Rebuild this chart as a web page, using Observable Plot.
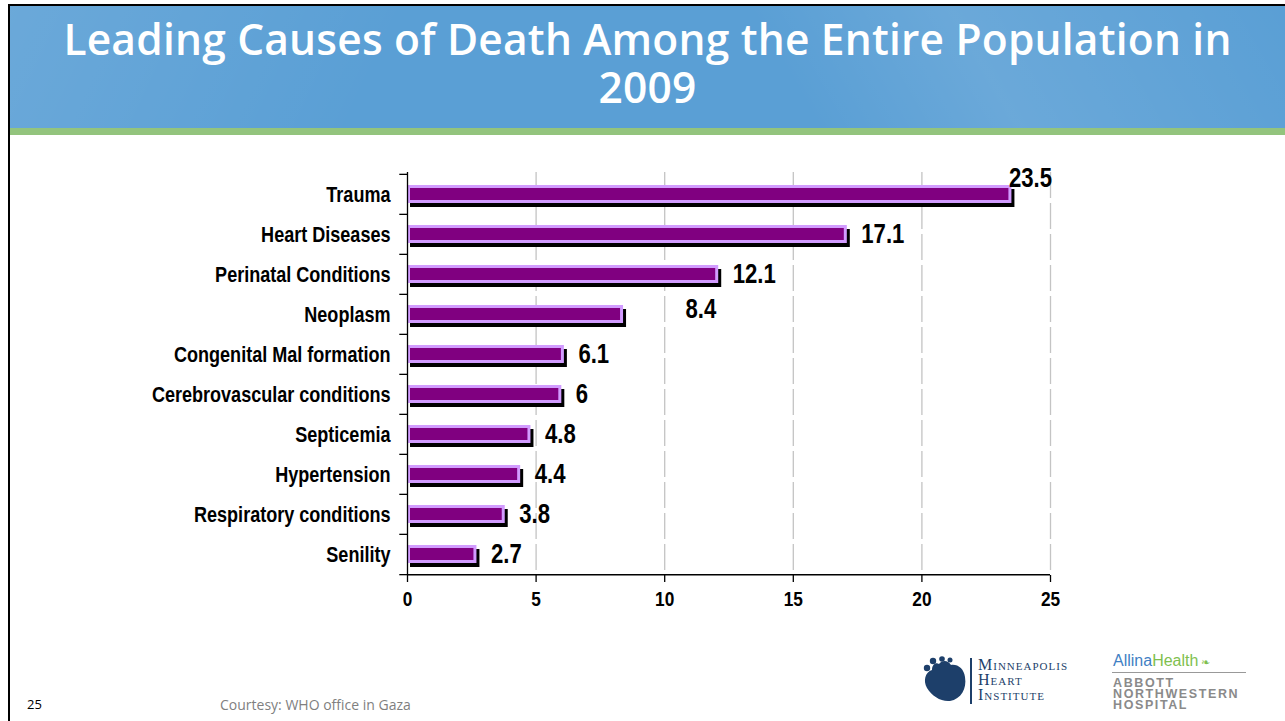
<!DOCTYPE html>
<html>
<head>
<meta charset="utf-8">
<script src="https://cdn.jsdelivr.net/npm/d3@7"></script>
<script src="https://cdn.jsdelivr.net/npm/@observablehq/plot@0.6"></script>
<style>
  html, body { margin: 0; padding: 0; background: #fff; }
  body { width: 1285px; height: 721px; position: relative; overflow: hidden; font-family: "Open Sans", "Noto Sans", sans-serif; }
  #frameL { position: absolute; left: 8px; top: 4px; width: 2px; height: 717px; background: #000; }
  #frameT { position: absolute; left: 8px; top: 4px; width: 1277px; height: 2px; background: #000; }
  #header { position: absolute; left: 10px; top: 6px; width: 1275px; height: 122px;
    background:
      linear-gradient(115deg, rgba(255,255,255,0.10) 0%, rgba(255,255,255,0.0) 30%),
      linear-gradient(60deg, rgba(255,255,255,0.0) 60%, rgba(255,255,255,0.10) 75%, rgba(255,255,255,0.0) 100%),
      #5a9fd5; }
  #green { position: absolute; left: 10px; top: 128px; width: 1275px; height: 7px; background: #93c47d; }
  .title { position: absolute; left: 10px; width: 1275px; height: 48px; text-align: center; color: #fff;
    font-family: "Open Sans", "Noto Sans", sans-serif; font-weight: 600; font-size: 42.5px; line-height: 48px; letter-spacing: 0.2px; white-space: nowrap; }
  #chart { position: absolute; left: 0; top: 140px; }
  #pagenum { position: absolute; left: 27px; top: 695px; font-size: 13px; color: #000; }
  #courtesy { position: absolute; left: 220px; top: 695px; font-size: 14px; color: #7f7f7f; }
  .mhi { position: absolute; font-family: "Liberation Serif", "DejaVu Serif", serif; color: #1d3f6a; font-size: 16px; line-height: 15px; letter-spacing: 1px; font-variant: small-caps; }
  #allina { position: absolute; left: 1113px; top: 653px; font-family: "Liberation Sans", sans-serif; font-size: 16px; line-height: 16px; }
  #allinaLine { position: absolute; left: 1112px; top: 672px; width: 134px; height: 1px; background: #999; }
  .anw { position: absolute; left: 1113px; font-family: "Liberation Sans", sans-serif; font-weight: 700; color: #8a8a8a; font-size: 12.5px; line-height: 11px; letter-spacing: 1.6px; }
</style>
</head>
<body>
<div id="header"></div>
<div id="green"></div>
<div id="frameL"></div>
<div id="frameT"></div>
<div class="title" style="top:15px">Leading Causes of Death Among the Entire Population in</div>
<div class="title" style="top:63px">2009</div>
<div id="chart"></div>
<div id="pagenum">25</div>
<div id="courtesy">Courtesy: WHO office in Gaza</div>

<svg style="position:absolute;left:920px;top:654px" width="50" height="50" viewBox="0 0 50 50">
  <path d="M12 16 C5 18 3 27 7 34 C12 42 21 48 30 47 C41 45 47 35 45 23 C44 15 38 10 31 11 C28 6 22 6 19 10 C16 8 12 10 12 16 Z" fill="#1d3f6a"/>
  <circle cx="7" cy="14" r="3.2" fill="#1d3f6a"/>
  <circle cx="13" cy="7" r="3.2" fill="#1d3f6a"/>
  <circle cx="22" cy="5" r="2.8" fill="#1d3f6a"/>
  <circle cx="30" cy="6" r="2.5" fill="#1d3f6a"/>
</svg>
<div style="position:absolute;left:970px;top:658px;width:2px;height:46px;background:#1d3f6a"></div>
<div class="mhi" style="left:978px;top:657px">Minneapolis</div>
<div class="mhi" style="left:978px;top:672px">Heart</div>
<div class="mhi" style="left:978px;top:687px">Institute</div>
<div id="allina"><span style="color:#3f7fc4">Allina</span><span style="color:#7fbf4f">Health</span><span style="color:#7fbf4f;font-size:11px"> &#x2767;</span></div>
<div id="allinaLine"></div>
<div class="anw" style="top:678px">ABBOTT</div>
<div class="anw" style="top:689px">NORTHWESTERN</div>
<div class="anw" style="top:700px">HOSPITAL</div>

<script>
const causes = ["Trauma", "Heart Diseases", "Perinatal Conditions", "Neoplasm", "Congenital Mal formation",
  "Cerebrovascular conditions", "Septicemia", "Hypertension", "Respiratory conditions", "Senility"];
const values = [23.5, 17.1, 12.1, 8.4, 6.1, 6, 4.8, 4.4, 3.8, 2.7];
const xTicks = [0, 5, 10, 15, 20, 25];

const data = causes.map((c, i) => ({cause: c, value: values[i]}));

const W = 1285, H = 480, mt = 32, mb = 45, ml = 407, mr = 235;
const step = (H - mt - mb) / causes.length;
const font = '"Liberation Sans", Arial, sans-serif';

const normal = data.filter(d => d.cause !== "Trauma" && d.cause !== "Neoplasm");
const valueText = {text: d => String(d.value), textAnchor: "start", fontSize: 27, fontWeight: "bold", fill: "#000"};

const chart = Plot.plot({
  width: W, height: H,
  marginTop: mt, marginBottom: mb, marginLeft: ml, marginRight: mr,
  style: {fontFamily: font, fontWeight: "bold", color: "#000", background: "transparent", overflow: "visible"},
  x: {domain: [0, 25], ticks: xTicks},
  y: {domain: causes, paddingInner: 0.56, paddingOuter: 0.28, align: 0.5},
  marks: [
    Plot.gridX(xTicks.filter(t => t > 0), {stroke: "#c4c4c4", strokeOpacity: 1, strokeWidth: 1.3, strokeDasharray: "26,5"}),
    Plot.barX(data, {x: "value", y: "cause", fill: "#000", dx: 3, dy: 4}),
    Plot.barX(data, {x: "value", y: "cause", fill: "#800080", stroke: "#d29cff", strokeWidth: 3, inset: 1.5}),
    Plot.ruleX([0], {stroke: "#000", strokeWidth: 1.3}),
    Plot.ruleY(causes, {y: d => d, x1: -0.3, x2: 0, dy: -step / 2, stroke: "#000", strokeWidth: 1.3}),
    Plot.ruleY([causes[causes.length - 1]], {y: d => d, x1: -0.3, x2: 0, dy: step / 2, stroke: "#000", strokeWidth: 1.3}),
    Plot.axisY({tickSize: 0, tickPadding: 17, fontSize: 22, fontWeight: "bold", label: null}),
    Plot.axisX({ticks: xTicks, tickSize: 7, tickPadding: 9, fontSize: 21, fontWeight: "bold", label: null, strokeWidth: 1.3}),
    Plot.ruleY([causes[causes.length - 1]], {y: d => d, x1: 0, x2: 25, dy: step / 2, stroke: "#000", strokeWidth: 1.5}),
    Plot.text(normal, {x: "value", y: "cause", dx: 14, ...valueText}),
    Plot.text(data.filter(d => d.cause === "Trauma"), {x: "value", y: "cause", dx: -3, dy: -16, ...valueText}),
    Plot.text(data.filter(d => d.cause === "Neoplasm"), {x: "value", y: "cause", dx: 62, dy: -5, ...valueText})
  ]
});
document.getElementById("chart").appendChild(chart);

// Narrow (condensed) look of the original labels: compress glyphs horizontally
chart.querySelectorAll("text").forEach(t => {
  const len = t.getComputedTextLength();
  if (len > 0) {
    t.setAttribute("textLength", (len * 0.82).toFixed(1));
    t.setAttribute("lengthAdjust", "spacingAndGlyphs");
  }
});
</script>
</body>
</html>
